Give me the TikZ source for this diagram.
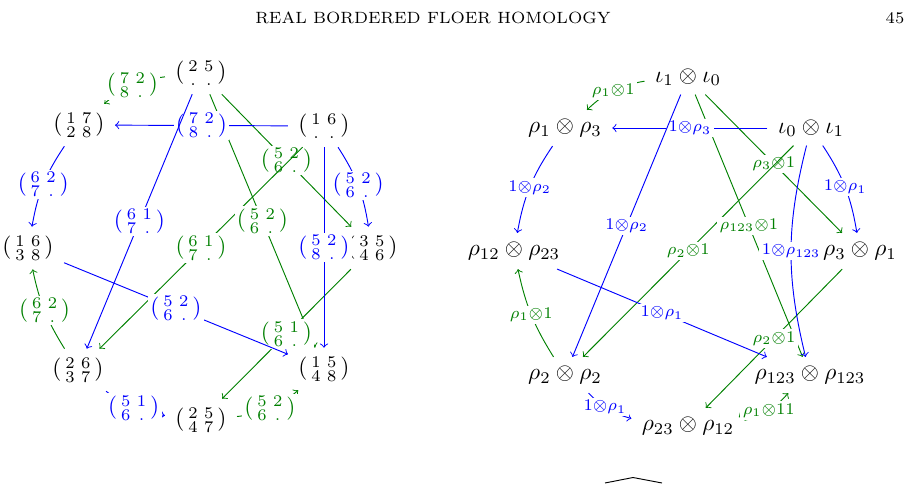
\documentclass[tikz,border=0pt]{standalone}
\usepackage{amsmath}

\newcommand{\mtx}[4]{\left(\begin{smallmatrix}#1&#2\\#3&#4\end{smallmatrix}\right)}
\colorlet{grn}{green!50!black}

\begin{document}
\begin{tikzpicture}[x=0.4286pt, y=-0.4286pt,
  cell/.style={inner xsep=1ex, inner ysep=0.85ex},
  lab/.style={fill=white, inner sep=1pt},
  gedge/.style={->, grn},
  bedge/.style={->, blue}]
\useasboundingbox (0,0) rectangle (922,487);

% running head
\node[font=\scriptsize] (head) at (433,18) {REAL BORDERED FLOER HOMOLOGY};
\node[font=\scriptsize] (page) at (895,18) {45};

% left: generators
\node[cell] (la) at (201,73) {$\mtx{2}{5}{.}{.}$};
\node[cell] (lb) at (79,125) {$\mtx{1}{7}{2}{8}$};
\node[cell] (lc) at (324,126) {$\mtx{1}{6}{.}{.}$};
\node[cell] (ld) at (28,248) {$\mtx{1}{6}{3}{8}$};
\node[cell] (le) at (372,248) {$\mtx{3}{5}{4}{6}$};
\node[cell] (lf) at (78,370) {$\mtx{2}{6}{3}{7}$};
\node[cell] (lg) at (324,369) {$\mtx{1}{5}{4}{8}$};
\node[cell] (lh) at (201,420) {$\mtx{2}{5}{4}{7}$};

\draw[gedge] (la) to[bend right=17] node[lab] {$\mtx{7}{2}{8}{.}$} (lb);
\draw[gedge] (la) -- node[lab] {$\mtx{5}{2}{6}{.}$} (le);
\draw[gedge] (lc) -- node[lab] {$\mtx{6}{1}{7}{.}$} (lf);
\draw[gedge] (la) -- node[lab] {$\mtx{5}{2}{6}{.}$} (lg);
\draw[gedge] (le) -- node[lab] {$\mtx{5}{1}{6}{.}$} (lh);
\draw[gedge] (lf) to[bend left=10] node[lab] {$\mtx{6}{2}{7}{.}$} (ld);
\draw[gedge] (lh) to[bend right=17] node[lab] {$\mtx{5}{2}{6}{.}$} (lg);
\draw[bedge] (lc) -- node[lab] {$\mtx{7}{2}{8}{.}$} (lb);
\draw[bedge] (lb) to[bend right=12] node[lab] {$\mtx{6}{2}{7}{.}$} (ld);
\draw[bedge] (lc) to[bend left=12] node[lab] {$\mtx{5}{2}{6}{.}$} (le);
\draw[bedge] (la) -- node[lab] {$\mtx{6}{1}{7}{.}$} (lf);
\draw[bedge] (lc) -- node[lab] {$\mtx{5}{2}{8}{.}$} (lg);
\draw[bedge] (ld) -- node[lab] {$\mtx{5}{2}{6}{.}$} (lg);
\draw[bedge] (lf) to[bend right=15] node[lab] {$\mtx{5}{1}{6}{.}$} (lh);

% right: tensor products
\node[cell] (ra) at (688,77) {$\iota_1\otimes\iota_0$};
\node[cell] (rb) at (565,128) {$\rho_1\otimes\rho_3$};
\node[cell] (rc) at (811,128) {$\iota_0\otimes\iota_1$};
\node[cell] (rd) at (514,251) {$\rho_{12}\otimes\rho_{23}$};
\node[cell] (re) at (860,251) {$\rho_3\otimes\rho_1$};
\node[cell] (rf) at (565,375) {$\rho_2\otimes\rho_2$};
\node[cell] (rg) at (810,375) {$\rho_{123}\otimes\rho_{123}$};
\node[cell] (rh) at (688,426) {$\rho_{23}\otimes\rho_{12}$};

\draw[gedge] (ra) to[bend right=17] node[lab] {$\scriptstyle\rho_1\otimes 1$} (rb);
\draw[gedge] (ra) -- node[lab] {$\scriptstyle\rho_3\otimes 1$} (re);
\draw[gedge] (rc) -- node[lab] {$\scriptstyle\rho_2\otimes 1$} (rf);
\draw[gedge] (ra) -- node[lab] {$\scriptstyle\rho_{123}\otimes 1$} (rg);
\draw[gedge] (re) -- node[lab] {$\scriptstyle\rho_2\otimes 1$} (rh);
\draw[gedge] (rf) to[bend left=10] node[lab] {$\scriptstyle\rho_1\otimes 1$} (rd);
\draw[gedge] (rh) to[bend right=17] node[lab, xshift=-4] {$\scriptstyle\rho_1\otimes 1$}
  node[lab] {$\scriptstyle\rho_1\otimes 11$} (rg);
\draw[bedge] (rc) -- node[lab] {$\scriptstyle 1\otimes\rho_3$} (rb);
\draw[bedge] (rb) to[bend right=12] node[lab] {$\scriptstyle 1\otimes\rho_2$} (rd);
\draw[bedge] (rc) to[bend left=12] node[lab] {$\scriptstyle 1\otimes\rho_1$} (re);
\draw[bedge] (ra) -- node[lab] {$\scriptstyle 1\otimes\rho_2$} (rf);
\draw[bedge] (rc) to[bend right=14] node[lab] {$\scriptstyle 1\otimes\rho_{123}$} (rg);
\draw[bedge] (rd) -- node[lab] {$\scriptstyle 1\otimes\rho_1$} (rg);
\draw[bedge] (rf) to[bend right=15] node[lab, pos=0.42] {$\scriptstyle 1\otimes\rho_1$} (rh);

% top of the next line
\draw (605,483) -- (633,477.5) -- (662,483);
\end{tikzpicture}
\end{document}
